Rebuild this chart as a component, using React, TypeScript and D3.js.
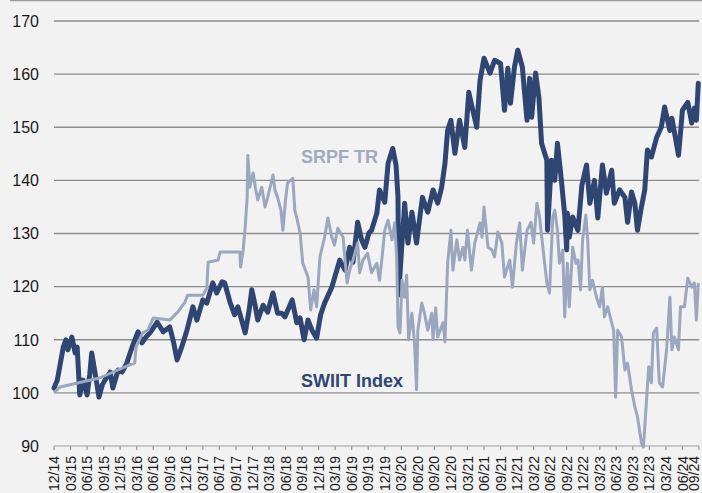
import React, { useEffect, useRef } from "react";
import * as d3 from "d3";

// dates as decimal years
const swiitDates = [
  2015.00, 2015.05, 2015.14, 2015.18, 2015.21, 2015.27, 2015.32, 2015.35, 2015.39, 2015.44,
  2015.47, 2015.50, 2015.54, 2015.57, 2015.62, 2015.68, 2015.73, 2015.77, 2015.85, 2015.89,
  2015.97, 2016.03, 2016.10, 2016.18, 2016.27, 2016.33, 2016.39, 2016.45, 2016.56, 2016.65,
  2016.75, 2016.81, 2016.86, 2016.93, 2017.01, 2017.10, 2017.16, 2017.25, 2017.31, 2017.40,
  2017.46, 2017.54, 2017.58, 2017.66, 2017.73, 2017.78, 2017.89, 2017.95, 2017.99, 2018.04,
  2018.08, 2018.16, 2018.23, 2018.31, 2018.38, 2018.44, 2018.49, 2018.60, 2018.67, 2018.72,
  2018.78, 2018.84, 2018.90, 2018.97, 2019.03, 2019.09, 2019.20, 2019.32, 2019.40, 2019.47,
  2019.52, 2019.59, 2019.65, 2019.70, 2019.76, 2019.80, 2019.88, 2019.92, 2020.00, 2020.05,
  2020.12, 2020.17, 2020.20, 2020.21, 2020.26, 2020.29, 2020.30, 2020.35, 2020.41, 2020.44,
  2020.48, 2020.53, 2020.57, 2020.65, 2020.73, 2020.80, 2020.86, 2020.91, 2020.95, 2021.00,
  2021.06, 2021.13, 2021.21, 2021.27, 2021.33, 2021.39, 2021.44, 2021.50, 2021.59, 2021.66,
  2021.75, 2021.81, 2021.86, 2021.90, 2021.96, 2022.01, 2022.08, 2022.15, 2022.19, 2022.22,
  2022.28, 2022.33, 2022.37, 2022.45, 2022.46, 2022.52, 2022.57, 2022.61, 2022.67, 2022.72,
  2022.75, 2022.76, 2022.79, 2022.84, 2022.92, 2022.98, 2023.05, 2023.10, 2023.17, 2023.22,
  2023.29, 2023.35, 2023.43, 2023.47, 2023.55, 2023.63, 2023.67, 2023.73, 2023.78, 2023.82,
  2023.88, 2023.93, 2023.97, 2024.03, 2024.11, 2024.18, 2024.23, 2024.31, 2024.34, 2024.40,
  2024.44, 2024.50, 2024.58, 2024.64, 2024.68, 2024.71, 2024.74,
];
const swiitValues = [
  100.9, 102.4, 108.6, 110.0, 108.1, 110.5, 107.5, 108.6, 99.6, 102.4,
  101.1, 99.6, 103.4, 107.5, 103.8, 99.2, 101.5, 102.4, 103.9, 100.9,
  104.3, 103.9, 105.6, 108.6, 111.5, 109.4, 110.5, 111.3, 113.3, 111.5,
  112.4, 109.4, 106.2, 108.6, 111.8, 116.2, 113.7, 117.5, 116.9, 120.7,
  118.8, 120.9, 120.7, 117.1, 114.7, 116.2, 111.3, 115.6, 119.4, 116.5,
  113.7, 116.5, 115.2, 118.8, 115.0, 115.0, 114.3, 117.5, 113.2, 114.1,
  110.0, 113.7, 111.8, 110.3, 114.7, 116.9, 119.9, 125.0, 123.1, 127.4,
  124.6, 132.1, 128.8, 127.4, 130.1, 130.6, 133.8, 138.2, 135.9, 143.2,
  146.0, 142.9, 136.8, 118.4, 128.2, 133.5, 135.7, 128.2, 134.0, 131.6,
  128.2, 133.1, 136.8, 134.0, 138.2, 135.7, 138.7, 143.2, 149.4, 151.3,
  145.1, 151.3, 146.2, 156.6, 153.2, 150.0, 158.8, 163.0, 160.2, 162.6,
  162.0, 153.2, 161.1, 154.5, 161.3, 164.5, 161.3, 151.3, 159.2, 151.9,
  160.2, 155.6, 147.0, 143.8, 130.6, 143.8, 140.0, 147.0, 140.0, 133.5,
  126.9, 133.8, 129.3, 133.1, 130.6, 139.1, 142.9, 135.7, 140.0, 132.9,
  142.9, 137.6, 141.9, 135.7, 138.2, 136.8, 132.1, 137.8, 135.7, 130.6,
  135.0, 138.2, 145.7, 144.4, 148.1, 150.0, 153.8, 149.4, 151.7, 147.6,
  144.7, 153.2, 154.7, 150.8, 153.6, 151.3, 158.3,
];

const srpfDates = [
  2015.00, 2015.09, 2015.69, 2016.15, 2016.22, 2016.24, 2016.34, 2016.42, 2016.50, 2016.75,
  2016.87, 2016.98, 2017.02, 2017.25, 2017.31, 2017.33, 2017.48, 2017.51, 2017.81, 2017.82,
  2017.86, 2017.89, 2017.92, 2017.93, 2017.96, 2018.01, 2018.05, 2018.08, 2018.14, 2018.19,
  2018.23, 2018.31, 2018.34, 2018.38, 2018.43, 2018.46, 2018.50, 2018.53, 2018.61, 2018.64,
  2018.67, 2018.72, 2018.76, 2018.84, 2018.88, 2018.93, 2018.97, 2019.02, 2019.09, 2019.14,
  2019.20, 2019.24, 2019.29, 2019.37, 2019.43, 2019.47, 2019.52, 2019.59, 2019.62, 2019.67,
  2019.74, 2019.80, 2019.88, 2019.92, 2019.95, 2020.00, 2020.05, 2020.11, 2020.15, 2020.18,
  2020.20, 2020.23, 2020.26, 2020.30, 2020.33, 2020.36, 2020.41, 2020.45, 2020.48, 2020.50,
  2020.56, 2020.60, 2020.65, 2020.71, 2020.73, 2020.77, 2020.80, 2020.88, 2020.91, 2020.95,
  2021.00, 2021.03, 2021.09, 2021.13, 2021.18, 2021.21, 2021.25, 2021.31, 2021.36, 2021.44,
  2021.47, 2021.50, 2021.56, 2021.62, 2021.66, 2021.71, 2021.77, 2021.81, 2021.89, 2021.93,
  2021.99, 2022.04, 2022.08, 2022.15, 2022.21, 2022.25, 2022.30, 2022.34, 2022.39, 2022.45,
  2022.49, 2022.54, 2022.57, 2022.61, 2022.64, 2022.69, 2022.72, 2022.76, 2022.79, 2022.84,
  2022.89, 2022.92, 2022.96, 2022.99, 2023.04, 2023.07, 2023.10, 2023.14, 2023.20, 2023.25,
  2023.29, 2023.32, 2023.37, 2023.43, 2023.46, 2023.49, 2023.52, 2023.58, 2023.63, 2023.67,
  2023.73, 2023.78, 2023.82, 2023.88, 2023.91, 2023.96, 2023.99, 2024.03, 2024.06, 2024.11,
  2024.15, 2024.20, 2024.26, 2024.31, 2024.34, 2024.38, 2024.44, 2024.47, 2024.53, 2024.58,
  2024.64, 2024.68, 2024.71, 2024.74,
];
const srpfValues = [
  100.0, 101.1, 102.8, 105.3, 105.6, 108.6, 111.3, 111.8, 114.1, 113.7,
  115.2, 117.1, 118.4, 118.4, 119.7, 124.6, 125.0, 126.5, 126.5, 123.7,
  126.9, 131.2, 136.8, 144.7, 138.7, 141.4, 138.2, 136.3, 138.7, 135.0,
  136.8, 141.0, 138.2, 136.8, 134.4, 130.6, 136.3, 139.5, 140.4, 134.4,
  132.9, 130.1, 124.4, 121.8, 115.6, 119.4, 116.2, 125.6, 129.3, 132.9,
  129.3, 127.8, 131.0, 129.3, 120.7, 123.1, 125.0, 128.2, 122.6, 125.0,
  126.3, 122.6, 124.4, 121.2, 124.4, 130.6, 132.5, 128.8, 132.0, 125.6,
  112.4, 111.3, 121.2, 118.0, 122.2, 110.0, 115.0, 109.4, 100.6, 111.8,
  116.9, 115.0, 111.8, 115.0, 110.0, 116.0, 110.5, 113.2, 109.6, 124.4,
  130.6, 123.1, 128.8, 125.0, 127.4, 125.0, 130.6, 123.1, 128.2, 132.0,
  129.3, 135.0, 127.4, 126.9, 125.6, 130.3, 128.2, 121.8, 125.0, 119.9,
  128.2, 132.0, 123.1, 130.6, 132.1, 128.2, 135.7, 133.1, 127.4, 120.7,
  118.8, 133.1, 134.4, 130.6, 124.4, 126.9, 114.3, 124.4, 116.2, 127.4,
  124.4, 125.0, 119.4, 128.8, 133.5, 128.2, 119.4, 121.2, 118.0, 116.2,
  119.9, 114.3, 116.2, 113.2, 111.8, 99.2, 111.8, 110.5, 104.3, 105.6,
  100.6, 97.4, 95.5, 90.6, 89.8, 99.2, 104.9, 101.9, 111.3, 112.2,
  101.9, 101.1, 108.1, 118.0, 108.1, 110.5, 108.1, 116.2, 116.2, 121.6,
  119.9, 120.7, 113.7, 120.7,
];

const quarterLabels = [
  "12/14", "03/15", "06/15", "09/15", "12/15", "03/16", "06/16", "09/16", "12/16", "03/17",
  "06/17", "09/17", "12/17", "03/18", "06/18", "09/18", "12/18", "03/19", "06/19", "09/19",
  "12/19", "03/20", "06/20", "09/20", "12/20", "03/21", "06/21", "09/21", "12/21", "03/22",
  "06/22", "09/22", "12/22", "03/23", "06/23", "09/23", "12/23", "03/24", "06/24", "09/24",
];
const yTicks = [90, 100, 110, 120, 130, 140, 150, 160, 170];

const W = 702;
const H = 493;
const DARK = "#2f4572";
const LIGHT = "#9ba6bf";
const FONT = "'Liberation Sans', Arial, sans-serif";

export default function App() {
  const svgRef = useRef<SVGSVGElement>(null);

  useEffect(() => {
    document.body.style.margin = "0";
    const svg = d3.select(svgRef.current);
    svg.selectAll("*").remove();

    const x = d3.scaleLinear().domain([2015, 2024.75]).range([54, 699]);
    const y = d3.scaleLinear().domain([90, 170]).range([446, 21]);

    svg.append("rect").attr("width", W).attr("height", H).attr("fill", "#f2f2f2");
    // frame edge at top
    svg.append("line")
      .attr("x1", 10).attr("x2", W).attr("y1", 0.5).attr("y2", 0.5)
      .attr("stroke", "#9a9a9a").attr("stroke-width", 1.5);

    // gridlines
    svg.append("g").selectAll("line")
      .data(yTicks.filter(d => d > 90))
      .enter().append("line")
      .attr("x1", 54).attr("x2", 699)
      .attr("y1", d => y(d)).attr("y2", d => y(d))
      .attr("stroke", "#8c8c8c").attr("stroke-width", 1.4);

    // y labels
    svg.append("g").selectAll("text")
      .data(yTicks)
      .enter().append("text")
      .attr("x", 39).attr("y", d => y(d)).attr("dy", "0.36em")
      .attr("text-anchor", "end")
      .attr("font-family", FONT).attr("font-size", 16)
      .attr("fill", "#1a1a1a")
      .text(d => d);

    // x axis
    const qx = (i: number) => x(2015 + i / 4);
    svg.append("line")
      .attr("x1", 54).attr("x2", 699).attr("y1", 446).attr("y2", 446)
      .attr("stroke", "#9a9a9a").attr("stroke-width", 1.2);
    svg.append("g").selectAll("line")
      .data(quarterLabels)
      .enter().append("line")
      .attr("x1", (d, i) => qx(i)).attr("x2", (d, i) => qx(i))
      .attr("y1", 446).attr("y2", 450)
      .attr("stroke", "#9a9a9a").attr("stroke-width", 1.2);
    svg.append("g").selectAll("text")
      .data(quarterLabels)
      .enter().append("text")
      .attr("transform", (d, i) => `translate(${Math.min(qx(i), 694)},456) rotate(-90)`)
      .attr("dy", "0.36em")
      .attr("text-anchor", "end")
      .attr("font-family", FONT).attr("font-size", 14)
      .attr("fill", "#1a1a1a")
      .text(d => d);

    const line = d3.line<[number, number]>()
      .x(d => x(d[0]))
      .y(d => y(d[1]));

    svg.append("path")
      .datum(swiitDates.map((d, i) => [d, swiitValues[i]] as [number, number]))
      .attr("d", line)
      .attr("fill", "none")
      .attr("stroke", DARK).attr("stroke-width", 5)
      .attr("stroke-linejoin", "round").attr("stroke-linecap", "round");

    svg.append("path")
      .datum(srpfDates.map((d, i) => [d, srpfValues[i]] as [number, number]))
      .attr("d", line)
      .attr("fill", "none")
      .attr("stroke", LIGHT).attr("stroke-width", 3)
      .attr("stroke-linejoin", "round");

    // series labels
    svg.append("text")
      .attr("x", 301).attr("y", 163)
      .attr("font-family", FONT).attr("font-size", 18).attr("font-weight", "bold")
      .attr("fill", "#a0aac1")
      .text("SRPF TR");
    svg.append("text")
      .attr("x", 301).attr("y", 387)
      .attr("font-family", FONT).attr("font-size", 18).attr("font-weight", "bold")
      .attr("fill", DARK)
      .text("SWIIT Index");
  }, []);

  return <svg ref={svgRef} width={W} height={H} style={{ display: "block" }} />;
}
